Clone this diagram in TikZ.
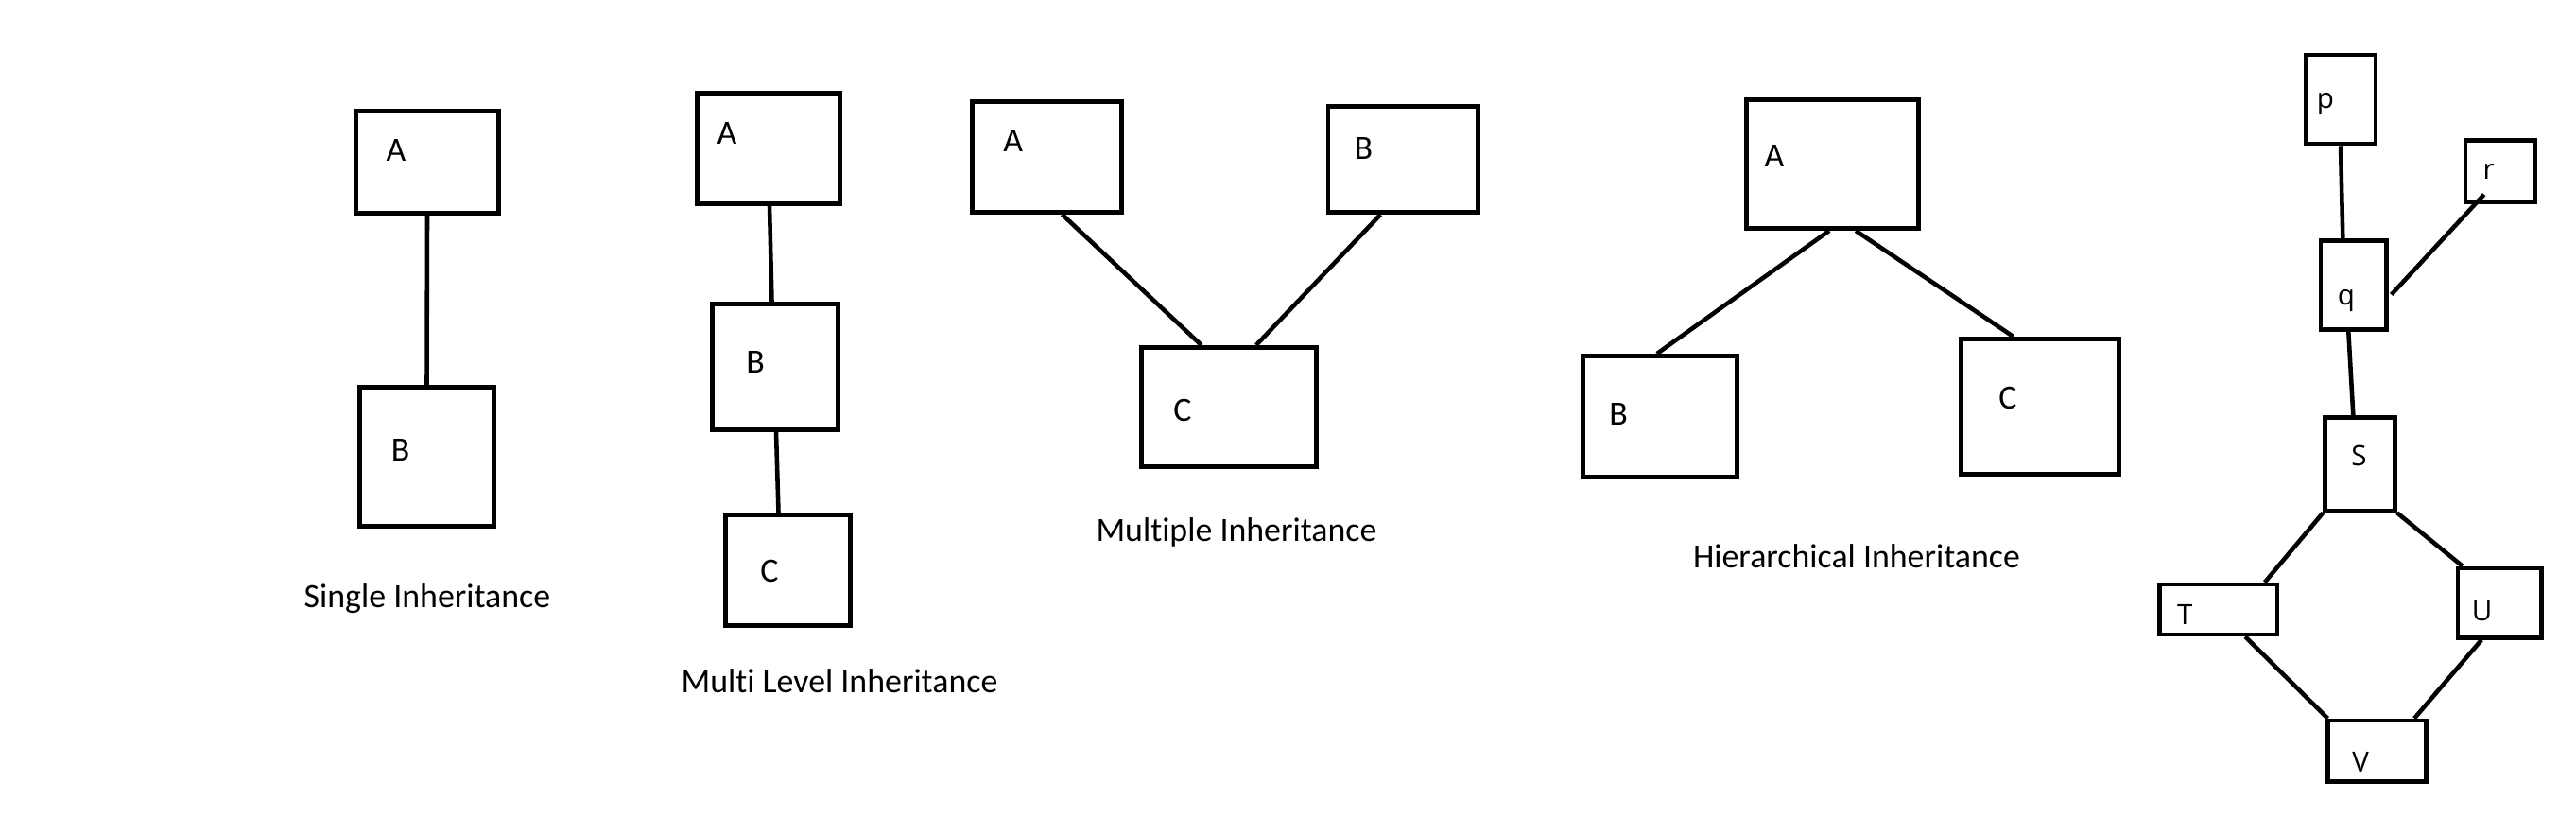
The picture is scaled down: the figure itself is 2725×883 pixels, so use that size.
\documentclass[tikz,border=0pt]{standalone}
\usepackage{fontspec}
\setmainfont{Carlito}[Ligatures={NoCommon}]
\newfontfamily\rfont{Open Sans}
\usetikzlibrary{calc}
\tikzset{
  box/.style={draw=black, line width=1.3pt, inner sep=0pt, fill=none},
  bx/.style 2 args={box, minimum width={#1*0.01cm-0.046cm}, minimum height={#2*0.01cm-0.046cm}},
  lbl/.style={inner sep=0pt, font=\fontsize{10.2}{12}\selectfont},
  rlbl/.style={inner sep=0pt, font=\rfont\fontsize{8.4}{10}\selectfont},
  captxt/.style={inner sep=0pt, font=\fontsize{10.2}{12}\selectfont},
  conn/.style={line width=1.3pt, draw=black}
}
\begin{document}
\begin{tikzpicture}[x=0.01cm,y=-0.01cm]
\fill[white] (0,0) rectangle (2725,883);
\useasboundingbox (0,0) rectangle (2725,883);

% Single inheritance
\node[bx={156}{113}] (sA) at (452,171.5) {};
\node[bx={147}{152}] (sB) at (451.5,483) {};
\node[lbl] (sAl) at (419,159) {A};
\node[lbl] (sBl) at (423.5,476) {B};
\node[captxt] (sCap) at (452,633) {Single Inheritance};
\draw[conn] (sA.south) -- (sB.north);

% Multi level inheritance
\node[bx={156}{122}] (mA) at (813,157) {};
\node[bx={138}{138}] (mB) at (820,388) {};
\node[bx={137}{122}] (mC) at (833.5,603) {};
\node[lbl] (mAl) at (769,141.5) {A};
\node[lbl] (mBl) at (799,382.6) {B};
\node[lbl] (mCl) at (814,603.6) {C};
\node[captxt] (mCap) at (888,720) {Multi Level Inheritance};
\draw[conn] ($(mA.south)+(1,0)$) -- ($(mB.north)+(-3.5,0)$);
\draw[conn] ($(mB.south)+(1,0)$) -- ($(mC.north)+(-10,0)$);

% Multiple inheritance
\node[bx={163}{121.5}] (xA) at (1107.5,166) {};
\node[bx={163.4}{117}] (xB) at (1484.3,168.5) {};
\node[bx={189.6}{131}] (xC) at (1299.8,430.5) {};
\node[lbl] (xAl) at (1071.7,148.7) {A};
\node[lbl] (xBl) at (1442.4,157) {B};
\node[lbl] (xCl) at (1251,433.8) {C};
\node[captxt] (xCap) at (1308,563) {Multiple Inheritance};
\draw[conn] ($(xA.south)+(16,0)$) -- ($(xC.north)+(-29,0)$);
\draw[conn] ($(xB.south)+(-24,0)$) -- ($(xC.north)+(29,0)$);

% Hierarchical inheritance
\node[bx={187}{141}] (hA) at (1938.5,173.5) {};
\node[bx={167.5}{133}] (hB) at (1755.8,440.5) {};
\node[bx={171.6}{148}] (hC) at (2157.8,430) {};
\node[lbl] (hAl) at (1877,164.8) {A};
\node[lbl] (hBl) at (1712,438.4) {B};
\node[lbl] (hCl) at (2124,421) {C};
\node[captxt] (hCap) at (1964,588) {Hierarchical Inheritance};
\draw[conn] ($(hA.south)+(-3.5,0)$) -- ($(hB.north)+(-3,0)$);
\draw[conn] ($(hA.south)+(24.5,0)$) -- ($(hC.north)+(-28,0)$);

% Hybrid
\node[bx={78.6}{98.6}] (p) at (2476,105) {};
\node[bx={78.6}{70}] (r) at (2645,181) {};
\node[bx={74}{98.4}] (q) at (2489.7,301.5) {};
\node[bx={78.4}{103.3}] (S) at (2496.5,490.7) {};
\node[bx={129.3}{57.6}] (T) at (2346.7,644.5) {};
\node[bx={93.3}{78}] (U) at (2644.3,637.7) {};
\node[bx={109}{69.3}] (V) at (2514.5,794.3) {};
\node[rlbl] (pl) at (2460,110) {p};
\node[rlbl] (rl) at (2632.7,181) {r};
\node[rlbl] (ql) at (2482,318.3) {q};
\node[rlbl] (Sl) at (2495.5,481.7) {S};
\node[rlbl] (Tl) at (2311.3,649.5) {T};
\node[rlbl] (Ul) at (2625.5,646.5) {U};
\node[rlbl] (Vl) at (2497,806.3) {V};
\draw[conn] (p.south) -- ($(q.north)+(-11.4,0)$);
\draw[conn] ($(q.east)+(3,10)$) -- ($(r.south)+(-17.3,-10.3)$);
\draw[conn] ($(q.south)+(-5.4,0)$) -- ($(S.north)+(-7.2,0)$);
\draw[conn] (S.south west) -- ($(T.north east)+(-15.6,0)$);
\draw[conn] (S.south east) -- ($(U.north west)+(7.3,0)$);
\draw[conn] ($(T.south east)+(-36.3,0)$) -- ($(V.north west)+(2.3,0)$);
\draw[conn] ($(U.south)+(-19.3,0)$) -- ($(V.north east)+(-15,0)$);
\end{tikzpicture}
\end{document}
